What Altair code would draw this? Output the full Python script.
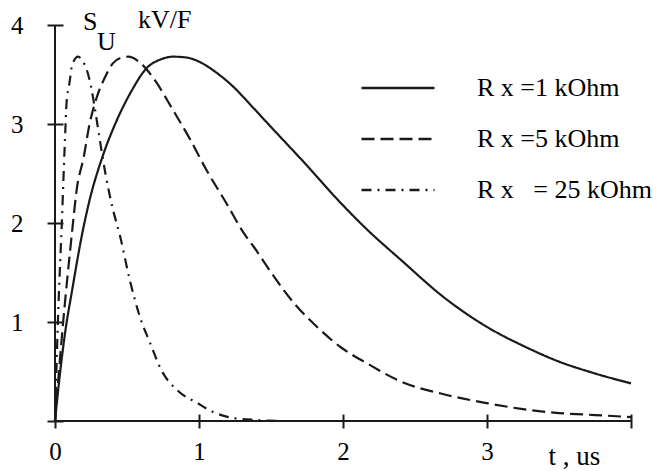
import altair as alt
import pandas as pd

# Pulse sensitivity S_U (kV/F) versus time t (us) for three load resistances
t_1k = [0, 0.03, 0.07, 0.12, 0.19, 0.24, 0.33, 0.43, 0.53, 0.64, 0.73, 0.82,
        0.92, 1.0, 1.12, 1.25, 1.36, 1.5, 1.75, 1.96, 2.17, 2.4, 2.7, 3.0,
        3.25, 3.5, 3.75, 4.0]
s_1k = [0, 0.42, 0.89, 1.33, 1.9, 2.23, 2.67, 3.04, 3.33, 3.57, 3.65, 3.68,
        3.67, 3.63, 3.52, 3.36, 3.19, 2.97, 2.58, 2.24, 1.93, 1.63, 1.25, 0.95,
        0.76, 0.60, 0.48, 0.38]

t_5k = [0, 0.05, 0.12, 0.15, 0.2, 0.24, 0.29, 0.35, 0.40, 0.46, 0.51, 0.59,
        0.68, 0.82, 0.94, 1.05, 1.19, 1.31, 1.38, 1.52, 1.66, 1.82, 1.98,
        2.17, 2.4, 2.7, 3.0, 3.25, 3.5, 3.75, 4.0]
s_5k = [0, 0.89, 1.93, 2.33, 2.67, 3.0, 3.27, 3.48, 3.61, 3.67, 3.68, 3.62,
        3.47, 3.14, 2.84, 2.54, 2.2, 1.9, 1.76, 1.46, 1.19, 0.95, 0.75,
        0.58, 0.40, 0.27, 0.18, 0.12, 0.08, 0.06, 0.04]

t_25k = [0, 0.02, 0.05, 0.06, 0.07, 0.08, 0.10, 0.12, 0.16, 0.19, 0.22, 0.25,
         0.28, 0.31, 0.35, 0.40, 0.45, 0.52, 0.59, 0.66, 0.74, 0.85, 0.99,
         1.10, 1.24, 1.4, 1.56]
s_25k = [0, 1.0, 2.1, 2.5, 2.87, 3.21, 3.41, 3.6, 3.68, 3.64, 3.55, 3.38,
         3.13, 2.85, 2.5, 2.15, 1.88, 1.42, 1.05, 0.79, 0.51, 0.31, 0.18,
         0.09, 0.03, 0.01, 0.0]

series_names = ["R x =1 kOhm", "R x =5 kOhm", "R x \u00a0\u00a0= 25 kOhm"]
dash_styles = [[1, 0], [13, 6], [10, 6, 2, 6]]

x_ticks = [0, 1, 2, 3, 4]
y_ticks = [0, 1, 2, 3, 4]

frames = []
for name, tt, ss in zip(series_names, [t_1k, t_5k, t_25k], [s_1k, s_5k, s_25k]):
    frames.append(pd.DataFrame({"t": tt, "s": ss, "series": name}))
df = pd.concat(frames, ignore_index=True)

SERIF = "Liberation Serif"
INK = "#1a1a1a"

x_axis = alt.Axis(
    values=x_ticks, format="d", offset=-7, tickSize=14, tickWidth=2,
    tickColor=INK, domain=False, grid=False, labelFont=SERIF,
    labelFontSize=25, labelColor="#000", labelPadding=11, labelFlush=False,
    labelExpr="datum.value == 4 ? '' : datum.label",
    title="t , us", titleFont=SERIF, titleFontSize=27, titleFontWeight="normal",
    titleColor="#000", titleX=493, titleY=50, titleAlign="left",
    titleBaseline="alphabetic",
)
y_axis = alt.Axis(
    values=y_ticks, format="d", offset=-8, tickSize=16, tickWidth=2,
    tickColor=INK, domain=False, grid=False, labelFont=SERIF,
    labelFontSize=25, labelColor="#000", labelPadding=24, labelFlush=False,
    labelExpr="datum.value == 0 ? '' : datum.label", title=None,
)

lines = alt.Chart(df).mark_line(
    interpolate="monotone", strokeWidth=2.2, color=INK
).encode(
    x=alt.X("t:Q", scale=alt.Scale(domain=[0, 4], nice=False), axis=x_axis),
    y=alt.Y("s:Q", scale=alt.Scale(domain=[0, 4], nice=False), axis=y_axis),
    strokeDash=alt.StrokeDash(
        "series:N",
        scale=alt.Scale(domain=series_names, range=dash_styles),
        legend=alt.Legend(
            orient="none", legendX=305, legendY=25, title=None,
            symbolType="stroke", symbolSize=5329, symbolStrokeWidth=2.4,
            symbolStrokeColor=INK, labelFont=SERIF, labelFontSize=26,
            labelColor="#000", labelOffset=41, rowPadding=-24, padding=0,
            labelLimit=300,
        ),
    ),
)

one = pd.DataFrame({"k": [0]})
x_line = alt.Chart(one).mark_rule(color=INK, strokeWidth=2).encode(y=alt.datum(0))
y_line = alt.Chart(one).mark_rule(color=INK, strokeWidth=2).encode(x=alt.datum(0))

s_text = alt.Chart(one).mark_text(
    text="S", font=SERIF, fontSize=26, color="#000", align="left",
    baseline="alphabetic"
).encode(x=alt.value(28), y=alt.value(5))
u_text = alt.Chart(one).mark_text(
    text="U", font=SERIF, fontSize=26, color="#000", align="left",
    baseline="alphabetic"
).encode(x=alt.value(42), y=alt.value(25))
unit_text = alt.Chart(one).mark_text(
    text="kV/F", font=SERIF, fontSize=26, color="#000", align="left",
    baseline="alphabetic"
).encode(x=alt.value(83), y=alt.value(3))

chart = alt.layer(x_line, y_line, lines, s_text, u_text, unit_text).properties(
    width=576, height=396,
    autosize=alt.AutoSizeParams(type="none"),
    padding={"left": 55, "top": 25, "right": 29, "bottom": 50},
).configure(
    background="white", font=SERIF
).configure_view(
    stroke=None
).configure_axis(
    labelFont=SERIF, titleFont=SERIF
).configure_legend(
    labelFont=SERIF
)

chart.save("out.html", embed_options={"renderer": "svg", "actions": False})
